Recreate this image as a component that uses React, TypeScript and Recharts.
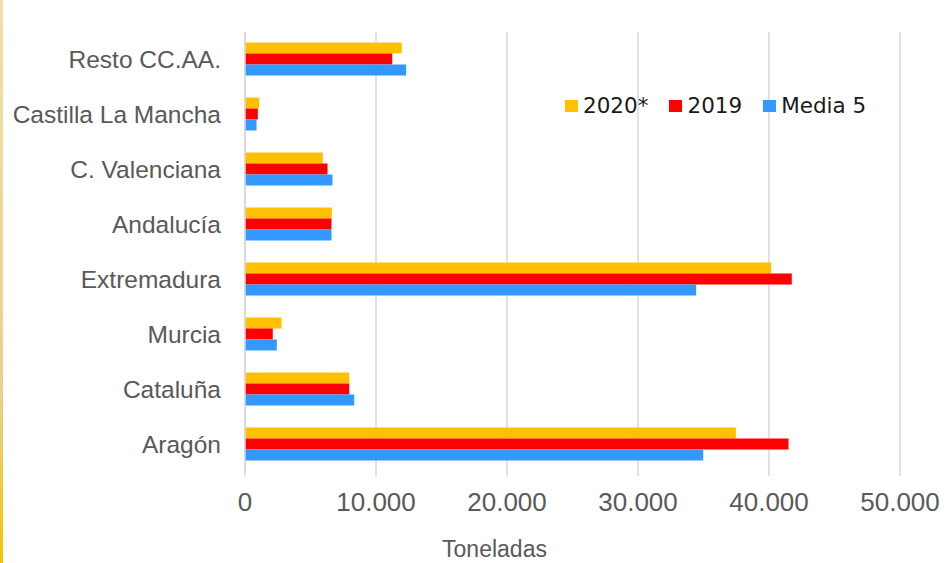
import React from 'react';
import { BarChart, Bar, XAxis, YAxis, CartesianGrid, Legend } from 'recharts';

const categories = ['Resto CC.AA.', 'Castilla La Mancha', 'C. Valenciana', 'Andalucía', 'Extremadura', 'Murcia', 'Cataluña', 'Aragón'];
const values2020 = [11970, 1080, 5940, 6630, 40170, 2790, 7960, 37470];
const values2019 = [11240, 980, 6300, 6600, 41740, 2120, 7960, 41490];
const valuesMedia5 = [12300, 880, 6680, 6600, 34440, 2430, 8340, 34980];
const xTicks = [0, 10000, 20000, 30000, 40000, 50000];

const seriesNames = ['2020*', '2019', 'Media 5'];
const seriesColors = ['#FFC000', '#FF0000', '#3399FF'];

const data = categories.map((name, i) => ({
  name,
  v2020: values2020[i],
  v2019: values2019[i],
  media5: valuesMedia5[i],
}));

const fmt = (v: number) => v.toString().replace(/\B(?=(\d{3})+(?!\d))/g, '.');

const LegendContent = () => (
  <div style={{ display: 'flex', alignItems: 'center', fontFamily: '"DejaVu Sans", sans-serif', fontSize: 21.5, color: '#1a1a1a' }}>
    {seriesNames.map((n, i) => (
      <div key={n} style={{ display: 'flex', alignItems: 'center', marginRight: i < 2 ? 21 : 0 }}>
        <span style={{ display: 'inline-block', width: 13, height: 12, background: seriesColors[i], marginRight: 5 }} />
        <span style={{ lineHeight: '24px' }}>{n}</span>
      </div>
    ))}
  </div>
);

export default function App() {
  return (
    <div style={{ position: 'absolute', left: 0, top: 0, width: 952, height: 563, background: '#fff', fontFamily: '"Liberation Sans", Arial, sans-serif' }}>
      <div style={{ position: 'absolute', left: 0, top: 0, width: 3, height: 563, background: 'linear-gradient(to bottom, #f3e0a8, #ead08a 70%, #f5c400)' }} />
      <BarChart
        width={952}
        height={563}
        data={data}
        layout="vertical"
        margin={{ top: 32, right: 52, left: 0, bottom: 0 }}
        barCategoryGap="19%"
        barGap={0}
      >
        <CartesianGrid horizontal={false} stroke="#d9d9d9" strokeWidth={1.5} />
        <XAxis
          type="number"
          domain={[0, 50000]}
          ticks={xTicks}
          tickFormatter={fmt}
          height={91}
          axisLine={false}
          tickLine={{ stroke: '#d9d9d9', strokeWidth: 1.5 }}
          tickSize={4}
          tickMargin={17}
          tick={{ fill: '#595959', fontSize: 26 }}
          label={{ value: 'Toneladas', position: 'insideBottom', offset: 6, dx: -78, fill: '#595959', fontSize: 23 }}
        />
        <YAxis
          type="category"
          dataKey="name"
          width={245}
          axisLine={{ stroke: '#d9d9d9', strokeWidth: 1.5 }}
          tickLine={false}
          tickSize={0}
          tickMargin={24}
          tick={{ fill: '#595959', fontSize: 24.5 }}
        />
        <Legend
          layout="horizontal"
          verticalAlign="middle"
          align="center"
          content={<LegendContent />}
          wrapperStyle={{ position: 'absolute', left: 565, top: 94, width: 'auto', height: 'auto' }}
        />
        <Bar dataKey="v2020" name={seriesNames[0]} fill={seriesColors[0]} isAnimationActive={false} />
        <Bar dataKey="v2019" name={seriesNames[1]} fill={seriesColors[1]} isAnimationActive={false} />
        <Bar dataKey="media5" name={seriesNames[2]} fill={seriesColors[2]} isAnimationActive={false} />
      </BarChart>
    </div>
  );
}
